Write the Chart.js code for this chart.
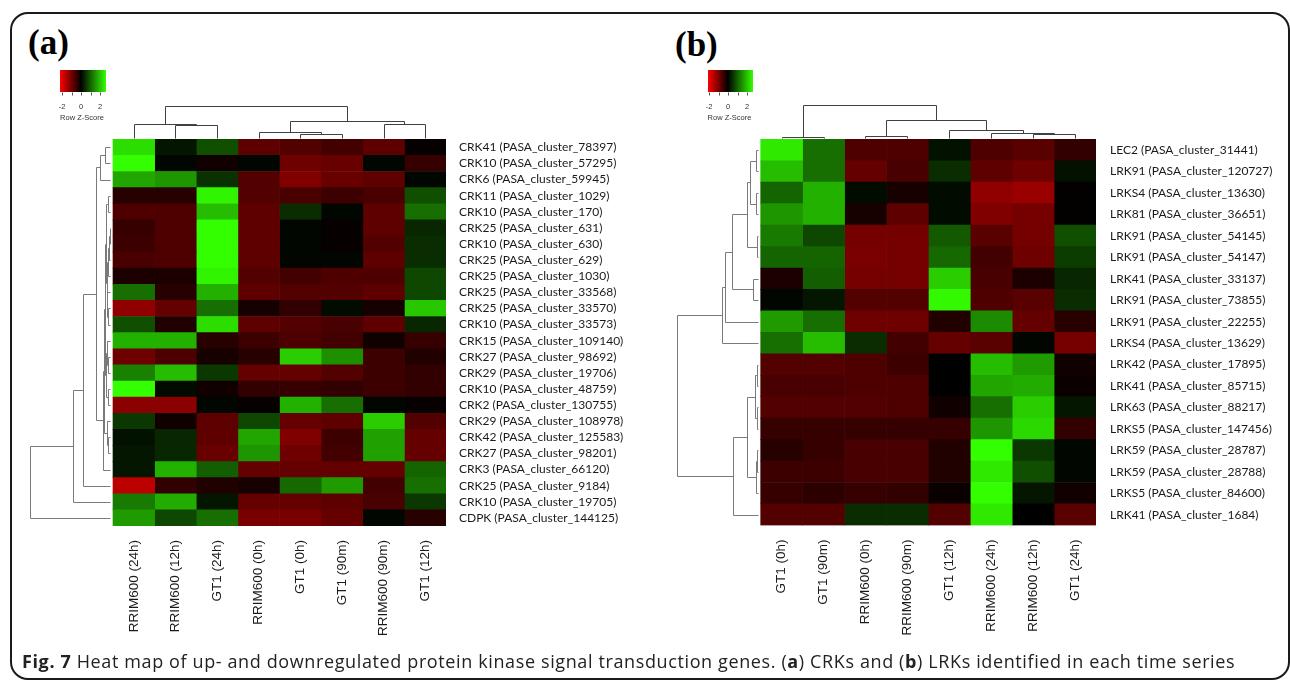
<!DOCTYPE html>
<html>
<head>
<meta charset="utf-8">
<script src="https://cdn.jsdelivr.net/npm/chart.js@4.4.1/dist/chart.umd.min.js"></script>
<style>
html, body { margin: 0; padding: 0; background: #fff; }
body { width: 1290px; height: 681px; position: relative; overflow: hidden; }
.frame { position: absolute; left: 10px; top: 12px; width: 1276px; height: 664px; border: 2px solid #1a1a1a; border-radius: 18px; }
canvas { position: absolute; left: 0; top: 0; }
.tag { position: absolute; font-family: "Liberation Serif", "Times New Roman", serif; font-weight: bold; font-size: 35px; color: #000; line-height: 1; }
.caption { position: absolute; left: 22px; top: 649px; font-family: "Open Sans", "Liberation Sans", Arial, sans-serif; font-size: 18px; letter-spacing: 0.62px; color: #222; white-space: nowrap; }
</style>
</head>
<body>
<div class="frame"></div>
<div class="tag" style="left:28px;top:25px;">(a)</div>
<div class="tag" style="left:675px;top:27px;">(b)</div>
<canvas id="chartA" width="1290" height="681"></canvas>
<canvas id="chartB" width="1290" height="681"></canvas>
<div class="caption"><b>Fig. 7</b> Heat map of up- and downregulated protein kinase signal transduction genes. (<b>a</b>) CRKs and (<b>b</b>) LRKs identified in each time series</div>
<script>
// ---- panel (a): CRKs ----
const genesA = [
    'CRK41 (PASA_cluster_78397)', 'CRK10 (PASA_cluster_57295)', 'CRK6 (PASA_cluster_59945)',
    'CRK11 (PASA_cluster_1029)', 'CRK10 (PASA_cluster_170)', 'CRK25 (PASA_cluster_631)',
    'CRK10 (PASA_cluster_630)', 'CRK25 (PASA_cluster_629)', 'CRK25 (PASA_cluster_1030)',
    'CRK25 (PASA_cluster_33568)', 'CRK25 (PASA_cluster_33570)', 'CRK10 (PASA_cluster_33573)',
    'CRK15 (PASA_cluster_109140)', 'CRK27 (PASA_cluster_98692)', 'CRK29 (PASA_cluster_19706)',
    'CRK10 (PASA_cluster_48759)', 'CRK2 (PASA_cluster_130755)', 'CRK29 (PASA_cluster_108978)',
    'CRK42 (PASA_cluster_125583)', 'CRK27 (PASA_cluster_98201)', 'CRK3 (PASA_cluster_66120)',
    'CRK25 (PASA_cluster_9184)', 'CRK10 (PASA_cluster_19705)', 'CDPK (PASA_cluster_144125)'
];
const condsA = ['RRIM600 (24h)', 'RRIM600 (12h)', 'GT1 (24h)', 'RRIM600 (0h)', 'GT1 (0h)', 'GT1 (90m)', 'RRIM600 (90m)', 'GT1 (12h)'];
// row z-scores, one row per gene, columns in condsA order
const zA = [
    [ 2.0,  0.2,  0.7, -0.85, -0.75, -0.6, -0.85, -0.05],
    [ 2.3,  0.05, -0.15, 0.05, -1.0, -0.95, 0.05, -0.5],
    [ 1.5,  1.35, 0.45, -0.75, -1.15, -0.95, -0.85, 0.05],
    [-0.35, -0.35, 2.2, -0.75, -0.65, -0.55, -0.65, 0.7],
    [-0.7, -0.7,  1.7, -0.85,  0.4,  0.05, -0.85, 1.0],
    [-0.5, -0.7,  2.3, -0.85,  0.05, -0.05, -0.85, 0.35],
    [-0.55, -0.7, 2.3, -0.85,  0.05, -0.05, -0.75, 0.4],
    [-0.65, -0.7, 2.3, -0.85,  0.05,  0.05, -0.85, 0.4],
    [-0.25, -0.25, 2.2, -0.75, -0.6, -0.7, -0.7, 0.65],
    [ 1.0, -0.35, 1.6, -0.85, -0.75, -0.75, -0.85, 0.65],
    [-1.3, -0.9,  1.0, -0.2, -0.45,  0.1, -0.2, 1.8],
    [ 0.7, -0.3,  2.0, -0.85, -0.75, -0.65, -0.85, 0.35],
    [ 1.6,  1.6, -0.35, -0.55, -0.7, -0.6, -0.15, -0.5],
    [-1.0, -0.7, -0.2, -0.35,  1.85, 1.3, -0.55, -0.3],
    [ 1.15, 1.7,  0.5, -0.9, -0.9, -0.75, -0.55, -0.45],
    [ 2.4,  0.1, -0.15, -0.45, -0.5, -0.45, -0.55, -0.45],
    [-1.25, -1.25, 0.05, -0.05, 1.6, 1.0, 0.05, -0.05],
    [ 0.5, -0.15, -0.85, 0.65, -0.9, -0.85, 1.85, -0.75],
    [ 0.15, 0.35, -0.85, 1.5, -1.15, -0.55, 1.45, -0.9],
    [ 0.2,  0.35, -0.95, 1.35, -1.0, -0.6, 1.45, -0.9],
    [ 0.2,  1.6,  0.85, -0.9, -0.9, -0.9, -0.9, 0.9],
    [-1.7, -0.45, -0.3, -0.2,  0.95, 1.4, -0.6, 1.0],
    [ 1.1,  1.55, 0.2, -0.9, -0.9, -0.85, -0.65, 0.5],
    [ 1.4,  0.65, 1.0, -1.1, -1.1, -0.9,  0.05, -0.35]
];
// dendrograms as [height, left, right], leaves are row / column indices
const rowTreeA = [1.0,
    [0.46,
        [0.34,
            [0.17,
                [0.125, [0.06, 0, 1], 2],
                [0.09,
                    [0.075,
                        [0.06,
                            [0.05, [0.03, 3, 4], [0.04, [0.02, [0.01, [0.005, 5, 6], 7], 8], [0.035, 9, [0.03, 10, 11]]]],
                            [0.045, [0.035, 12, [0.025, 13, 14]], [0.03, 15, 16]]],
                        [0.04, 17, [0.03, 18, 19]]],
                    20]],
            21],
        22],
    23];
const colTreeA = [1.0, [0.42, 0, [0.39, 1, 2]], [0.54, [0.2, 3, [0.12, 4, 5]], [0.42, 6, 7]]];

// ---- panel (b): LRKs ----
const genesB = [
    'LEC2 (PASA_cluster_31441)', 'LRK91 (PASA_cluster_120727)', 'LRKS4 (PASA_cluster_13630)',
    'LRK81 (PASA_cluster_36651)', 'LRK91 (PASA_cluster_54145)', 'LRK91 (PASA_cluster_54147)',
    'LRK41 (PASA_cluster_33137)', 'LRK91 (PASA_cluster_73855)', 'LRK91 (PASA_cluster_22255)',
    'LRKS4 (PASA_cluster_13629)', 'LRK42 (PASA_cluster_17895)', 'LRK41 (PASA_cluster_85715)',
    'LRK63 (PASA_cluster_88217)', 'LRKS5 (PASA_cluster_147456)', 'LRK59 (PASA_cluster_28787)',
    'LRK59 (PASA_cluster_28788)', 'LRKS5 (PASA_cluster_84600)', 'LRK41 (PASA_cluster_1684)'
];
const condsB = ['GT1 (0h)', 'GT1 (90m)', 'RRIM600 (0h)', 'RRIM600 (90m)', 'GT1 (12h)', 'RRIM600 (24h)', 'RRIM600 (12h)', 'GT1 (24h)'];
const zB = [
    [ 2.1,  1.0, -0.7, -0.7,  0.15, -0.7, -0.8, -0.45],
    [ 1.7,  1.0, -0.9, -0.65, 0.4, -0.85, -1.0, 0.15],
    [ 0.9,  1.6,  0.1, -0.2,  0.1, -1.3, -1.4, -0.03],
    [ 1.35, 1.6, -0.2, -0.85, 0.1, -1.15, -1.05, -0.03],
    [ 1.1,  0.65, -1.05, -1.05, 0.8, -0.8, -1.05, 0.7],
    [ 0.9,  0.9, -1.1, -1.05, 0.95, -0.6, -1.0, 0.55],
    [-0.25, 0.85, -1.05, -1.05, 1.85, -0.65, -0.25, 0.35],
    [ 0.05, 0.2, -0.75, -0.75, 2.25, -0.7, -0.8, 0.4],
    [ 1.4,  1.0, -1.0, -1.0, -0.3,  1.25, -0.9, -0.35],
    [ 1.0,  1.7,  0.4, -0.6, -0.9, -0.8,  0.05, -1.05],
    [-0.75, -0.75, -0.7, -0.55, 0.0, 1.7, 1.4, -0.15],
    [-0.65, -0.65, -0.7, -0.7, 0.0, 1.5, 1.55, -0.1],
    [-0.75, -0.75, -0.75, -0.7, -0.15, 1.0, 1.85, 0.2],
    [-0.5, -0.5, -0.5, -0.5, -0.5, 1.35, 1.95, -0.45],
    [-0.35, -0.5, -0.65, -0.65, -0.3, 2.3, 0.5, 0.05],
    [-0.55, -0.55, -0.65, -0.65, -0.3, 2.1, 0.7, 0.05],
    [-0.5, -0.4, -0.5, -0.45, -0.1, 2.4, 0.2, -0.15],
    [-0.75, -0.75, 0.4, 0.4, -0.75, 2.1, 0.0, -0.8]
];
const rowTreeB = [1.0,
    [0.444,
        [0.41,
            [0.325,
                [0.144, [0.10, [0.03, 0, 1], [0.03, 2, 3]], [0.012, 4, 5]],
                [0.06, 6, 7]],
            8],
        9],
    [0.31,
        [0.136, [0.04, [0.01, 10, 11], [0.02, 12, 13]], [0.03, [0.015, 14, 15], 16]],
        17]];
const colTreeB = [1.0, [0.04, 0, 1], [0.55, [0.06, 2, 3], [0.24, 4, [0.14, 5, [0.11, 6, 7]]]]];

const keyTicks = [-2, -1, 0, 1, 2];
const keyLabels = [-2, 0, 2];
const Z_MAX = 2.3;

function zColor(z) {
    const t = Math.min(Math.abs(z) / Z_MAX, 1);
    if (z < 0) return `rgb(${Math.round(255 * t)},0,0)`;
    return `rgb(${Math.round(51 * t)},${Math.round(255 * t)},0)`;
}

// walk a tree, collect the elbow segments in (position, height) units
function walkTree(node, segs) {
    if (typeof node === 'number') return { p: node + 0.5, h: 0 };
    const [h, a, b] = node;
    const A = walkTree(a, segs);
    const B = walkTree(b, segs);
    segs.push([A.p, A.h, A.p, h], [A.p, h, B.p, h], [B.p, h, B.p, B.h]);
    return { p: (A.p + B.p) / 2, h: h };
}

function makeHeatmap(canvasId, p) {
    const nR = p.genes.length, nC = p.conds.length;
    const colW = (p.box.r - p.box.l) / nC;
    const rowH = (p.box.b - p.box.t) / nR;
    const padLeft = p.rowRootX - 2, padTop = p.colRootY - 2;
    const xMin = (padLeft - p.box.l) / colW;
    const yMin = (padTop - p.box.t) / rowH;
    // dendrogram extents, in data units
    const rowBase = (p.rowBaseX - p.box.l) / colW, rowSpan = (p.rowBaseX - p.rowRootX) / colW;
    const colBase = (p.colBaseY - p.box.t) / rowH, colSpan = (p.colBaseY - p.colRootY) / rowH;

    const datasets = p.conds.map((c, j) => ({
        label: c,
        data: p.genes.map((g, i) => ({ y: i + 0.5, x: [j, j + 1] })),
        backgroundColor: p.z.map(row => zColor(row[j])),
        borderWidth: 0,
        barPercentage: 1,
        categoryPercentage: 1,
        grouped: false
    }));

    const dendroPlugin = {
        id: 'dendro' + canvasId,
        afterDatasetsDraw(chart) {
            const ctx = chart.ctx, xs = chart.scales.x, ys = chart.scales.y;
            const line = (x1, y1, x2, y2) => {
                ctx.moveTo(Math.round(x1) + 0.5, Math.round(y1) + 0.5);
                ctx.lineTo(Math.round(x2) + 0.5, Math.round(y2) + 0.5);
            };
            ctx.save();
            ctx.lineWidth = 1;
            // row tree, to the left of the cells
            const rsegs = [];
            walkTree(p.rowTree, rsegs);
            ctx.strokeStyle = '#7a7a7a';
            ctx.beginPath();
            rsegs.forEach(([p1, h1, p2, h2]) => line(
                xs.getPixelForValue(rowBase - h1 * rowSpan), ys.getPixelForValue(p1),
                xs.getPixelForValue(rowBase - h2 * rowSpan), ys.getPixelForValue(p2)));
            ctx.stroke();
            // column tree, above the cells
            const csegs = [];
            walkTree(p.colTree, csegs);
            ctx.strokeStyle = '#404040';
            ctx.beginPath();
            csegs.forEach(([p1, h1, p2, h2]) => line(
                xs.getPixelForValue(p1), ys.getPixelForValue(colBase - h1 * colSpan),
                xs.getPixelForValue(p2), ys.getPixelForValue(colBase - h2 * colSpan)));
            ctx.stroke();

            // colour key
            const k = p.key;
            const zeroFrac = (k.zero - k.x) / k.w;
            const grad = ctx.createLinearGradient(k.x, 0, k.x + k.w, 0);
            grad.addColorStop(0, '#ff0000');
            grad.addColorStop(zeroFrac, '#000000');
            grad.addColorStop(1, '#33ff00');
            ctx.fillStyle = grad;
            ctx.fillRect(k.x, k.y, k.w, k.h);
            ctx.strokeStyle = '#555';
            ctx.beginPath();
            keyTicks.forEach(t => line(k.zero + t * k.unit, k.y + k.h, k.zero + t * k.unit, k.y + k.h + 3));
            ctx.stroke();
            ctx.fillStyle = '#333';
            ctx.font = '7.5px "Liberation Sans", Arial, sans-serif';
            ctx.textAlign = 'center';
            ctx.textBaseline = 'middle';
            keyLabels.forEach(t => ctx.fillText(String(t), k.zero + t * k.unit, k.y + k.h + 15));
            ctx.fillText('Row Z-Score', k.x + k.w / 2 - 1, k.y + k.h + 26);
            ctx.restore();
        }
    };

    new Chart(document.getElementById(canvasId), {
        type: 'bar',
        data: { datasets },
        options: {
            indexAxis: 'y',
            responsive: false,
            animation: false,
            events: [],
            layout: { padding: { left: padLeft, top: padTop, right: 0, bottom: 0 } },
            plugins: { legend: { display: false }, tooltip: { enabled: false } },
            scales: {
                x: {
                    type: 'linear',
                    min: xMin,
                    max: nC,
                    grid: { display: false, drawTicks: false },
                    border: { display: false },
                    afterBuildTicks: s => { s.ticks = p.conds.map((c, j) => ({ value: j + 0.5 })); },
                    afterFit: s => {
                        s.height = 681 - p.box.b;
                        s.paddingLeft = 0; s.paddingRight = 0;
                    },
                    ticks: {
                        autoSkip: false,
                        minRotation: 90,
                        maxRotation: 90,
                        padding: 14,
                        color: '#1a1a1a',
                        font: { family: '"Liberation Sans", Arial, sans-serif', size: 13.5 },
                        callback: (v, i) => p.conds[i]
                    }
                },
                y: {
                    type: 'linear',
                    position: 'right',
                    reverse: true,
                    offset: false,
                    min: yMin,
                    max: nR,
                    grid: { display: false, drawTicks: false, offset: false },
                    border: { display: false },
                    afterBuildTicks: s => { s.ticks = p.genes.map((g, i) => ({ value: i + 0.5 })); },
                    afterFit: s => {
                        s.width = 1290 - p.box.r;
                        s.paddingTop = 0; s.paddingBottom = 0;
                    },
                    ticks: {
                        autoSkip: false,
                        padding: p.labelPad,
                        color: '#1a1a1a',
                        font: { family: 'Lato, "Liberation Sans", sans-serif', size: 12 },
                        callback: (v, i) => p.genes[i]
                    }
                }
            }
        },
        plugins: [dendroPlugin]
    });
}

makeHeatmap('chartA', {
    genes: genesA, conds: condsA, z: zA, rowTree: rowTreeA, colTree: colTreeA,
    box: { l: 113, t: 139.3, r: 446, b: 526 },
    rowRootX: 30, rowBaseX: 110, colRootY: 105.7, colBaseY: 138,
    labelPad: 13,
    key: { x: 60, y: 70, w: 46, h: 22, zero: 81, unit: 9.5 }
});

makeHeatmap('chartB', {
    genes: genesB, conds: condsB, z: zB, rowTree: rowTreeB, colTree: colTreeB,
    box: { l: 760.7, t: 139.3, r: 1096, b: 525.4 },
    rowRootX: 677.3, rowBaseX: 758.3, colRootY: 105, colBaseY: 138,
    labelPad: 14,
    key: { x: 708, y: 70, w: 45, h: 22, zero: 728, unit: 9.5 }
});
</script>
</body>
</html>
